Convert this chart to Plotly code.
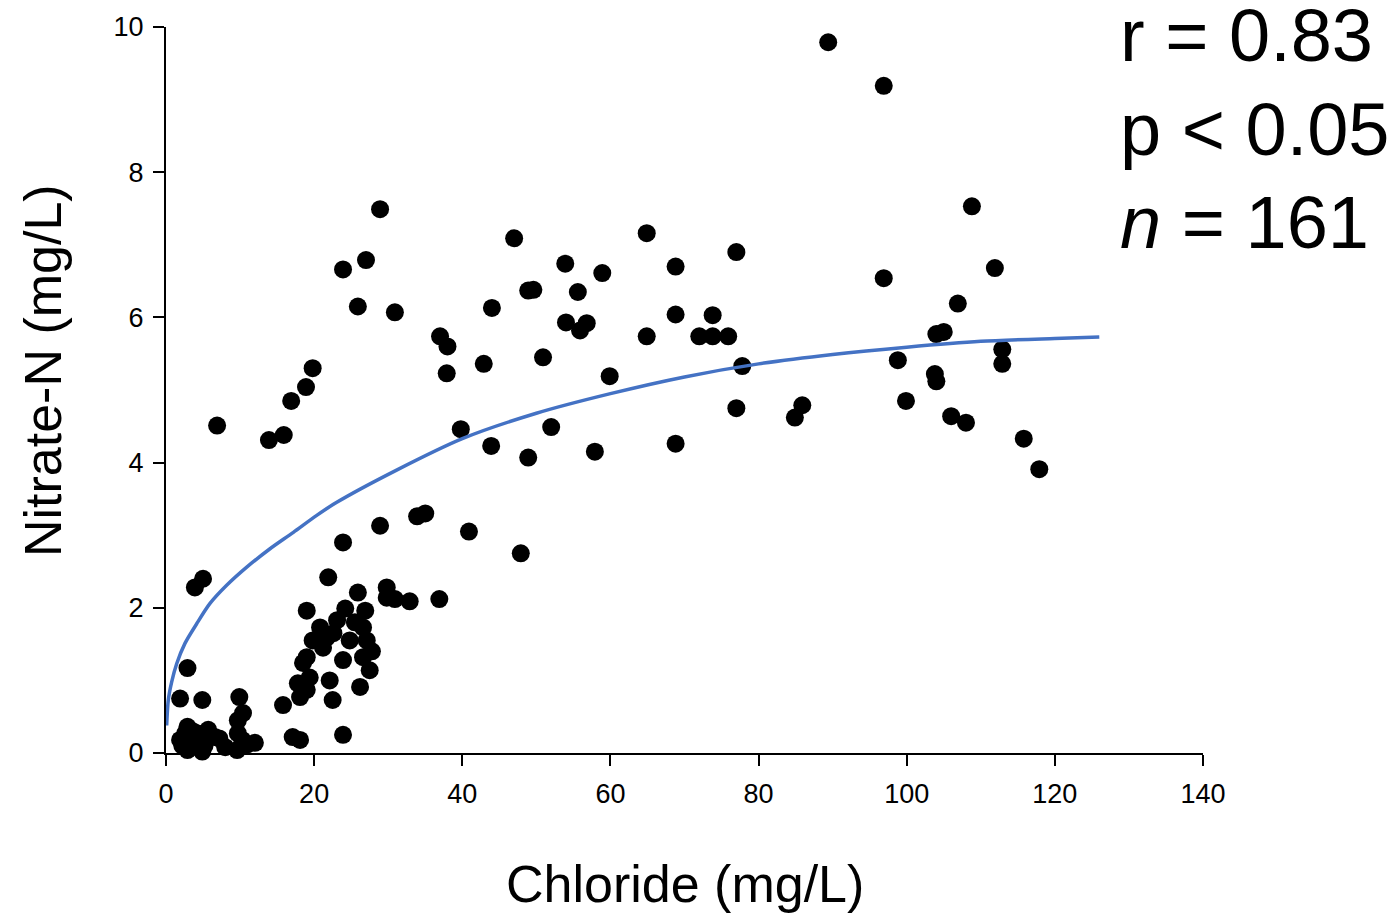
import plotly.graph_objects as go

# Scatter data (Chloride mg/L, Nitrate-N mg/L)
chloride = [
    89.4, 96.9, 28.9, 108.8, 47.0, 64.9, 77.0, 23.9, 27.0, 53.9,
    68.8, 58.9, 111.9, 96.9, 55.6, 48.9, 49.6, 25.9, 44.0, 30.9,
    106.9, 68.8, 73.8, 54.0, 56.8, 55.9, 37.0, 38.0, 64.9, 72.0,
    73.8, 75.9, 104.0, 105.0, 19.8, 18.9, 50.9, 42.9, 37.9, 77.8,
    59.9, 112.9, 112.9, 98.8, 103.8, 104.0, 16.9, 77.0, 85.9, 84.9,
    99.9, 106.0, 108.0, 6.9, 52.0, 39.8, 13.9, 15.9, 43.9, 57.9,
    68.8, 48.9, 115.8, 117.9, 33.9, 35.0, 40.9, 28.9, 23.9, 47.9,
    5.0, 3.9, 21.9, 25.9, 29.8, 29.8, 30.9, 32.9, 36.9,
    19.0, 24.2, 26.9, 20.8, 23.1, 26.6, 19.8, 21.7, 24.8, 27.1,
    19.0, 23.9, 26.6, 18.5, 27.5, 26.2, 22.1, 22.5, 17.8, 18.1,
    19.0, 15.8, 19.4, 21.2, 22.6, 25.5, 27.8,
    2.9, 1.9, 4.9, 9.9, 10.4, 9.7, 2.9, 1.9, 2.9, 4.3,
    5.7, 6.6, 8.0, 9.7, 9.6, 12.0, 4.9, 2.6, 4.3, 17.1,
    18.1, 23.9, 10.3, 3.3, 5.2, 7.2, 11.0, 3.6, 2.2,
]
nitrate = [
    9.79, 9.19, 7.49, 7.53, 7.09, 7.16, 6.90, 6.66, 6.79, 6.74,
    6.70, 6.61, 6.68, 6.54, 6.35, 6.37, 6.38, 6.15, 6.13, 6.07,
    6.19, 6.04, 6.03, 5.93, 5.92, 5.82, 5.74, 5.60, 5.74, 5.74,
    5.74, 5.74, 5.77, 5.80, 5.30, 5.04, 5.45, 5.36, 5.23, 5.33,
    5.19, 5.56, 5.36, 5.41, 5.22, 5.12, 4.85, 4.75, 4.79, 4.62,
    4.85, 4.64, 4.55, 4.51, 4.49, 4.46, 4.31, 4.38, 4.23, 4.15,
    4.26, 4.07, 4.33, 3.91, 3.26, 3.30, 3.05, 3.13, 2.90, 2.75,
    2.40, 2.28, 2.42, 2.21, 2.28, 2.14, 2.12, 2.09, 2.12,
    1.96, 1.99, 1.96, 1.73, 1.83, 1.73, 1.55, 1.59, 1.55, 1.55,
    1.32, 1.28, 1.32, 1.24, 1.14, 0.91, 1.00, 0.73, 0.96, 0.77,
    0.87, 0.66, 1.04, 1.45, 1.65, 1.80, 1.40,
    1.17, 0.75, 0.73, 0.77, 0.55, 0.45, 0.36, 0.18, 0.04, 0.08,
    0.32, 0.22, 0.08, 0.27, 0.04, 0.14, 0.02, 0.27, 0.27, 0.22,
    0.18, 0.25, 0.18, 0.12, 0.10, 0.20, 0.12, 0.30, 0.10,
]

# Fitted curve
fit_x = [0.09, 0.31, 0.77, 1.44, 2.56, 4.14, 5.94, 8.19, 10.9, 14.0, 17.2, 20.3, 23.0,
         31, 40, 50, 60, 70, 80, 90, 100, 110, 120, 126]
fit_y = [0.38, 0.73, 0.98, 1.23, 1.51, 1.78, 2.06, 2.31, 2.56, 2.81, 3.04, 3.27, 3.45,
         3.89, 4.33, 4.68, 4.95, 5.18, 5.36, 5.49, 5.59, 5.67, 5.71, 5.73]

x_ticks = [0, 20, 40, 60, 80, 100, 120, 140]
y_ticks = [0, 2, 4, 6, 8, 10]

stats_lines = ["r = 0.83", "p < 0.05", "<i>n</i> = 161"]

fig = go.Figure()
fig.add_trace(go.Scatter(
    x=chloride, y=nitrate, mode="markers",
    marker=dict(size=18, color="black", line=dict(width=0)),
    showlegend=False, cliponaxis=False,
))
fig.add_trace(go.Scatter(
    x=fit_x, y=fit_y, mode="lines",
    line=dict(color="#4472C4", width=3.5, shape="spline", smoothing=0.8),
    showlegend=False,
))

font = "Liberation Sans, Arial, sans-serif"
fig.update_layout(
    width=1396, height=914,
    margin=dict(l=166, r=193, t=25, b=161),
    plot_bgcolor="white", paper_bgcolor="white",
    font=dict(family=font, color="black"),
    xaxis=dict(
        range=[0, 140], tickvals=x_ticks, ticks="outside", ticklen=11,
        tickwidth=2, tickcolor="black", showline=True, linecolor="black",
        linewidth=2, showgrid=False, zeroline=False,
        tickfont=dict(size=27, family=font), ticklabelstandoff=5,
    ),
    yaxis=dict(
        range=[0, 10], tickvals=y_ticks, ticks="outside", ticklen=11,
        tickwidth=2, tickcolor="black", showline=True, linecolor="black",
        linewidth=2, showgrid=False, zeroline=False,
        tickfont=dict(size=27, family=font), ticklabelstandoff=4,
    ),
)

fig.add_annotation(text="Chloride (mg/L)", xref="paper", yref="paper",
                   x=0.5, y=-0.181, xanchor="center", yanchor="middle",
                   showarrow=False, font=dict(size=52, family=font))
fig.add_annotation(text="Nitrate-N (mg/L)", xref="paper", yref="paper",
                   x=-0.118, y=0.527, xanchor="center", yanchor="middle",
                   textangle=-90, showarrow=False, font=dict(size=52, family=font))

for i, t in enumerate(stats_lines):
    fig.add_annotation(text=t, xref="paper", yref="paper",
                       x=0.918, y=0.988 - i * 0.1285, xanchor="left", yanchor="middle",
                       showarrow=False, font=dict(size=74, family=font))

fig.write_html("out.html")
